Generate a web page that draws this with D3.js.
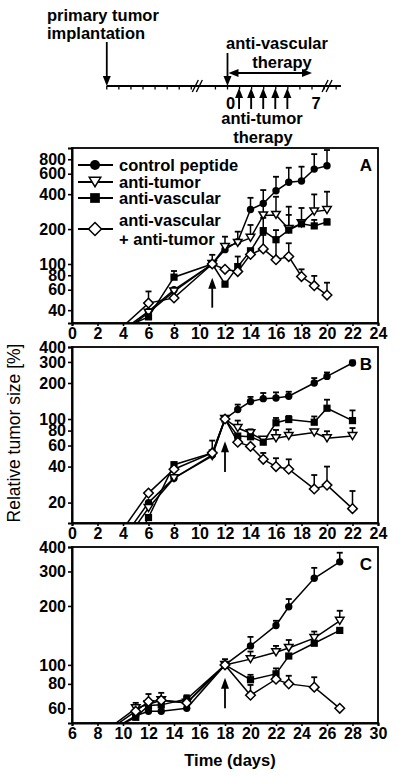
<!DOCTYPE html>
<html><head><meta charset="utf-8">
<script src="https://cdn.jsdelivr.net/npm/d3@7"></script>
<style>
body{margin:0;background:#fff;}
svg{display:block;font-family:Arial,"Liberation Sans",sans-serif;}
</style>
</head><body><svg id="c" width="400" height="776"></svg>
<script>
// ---------- DATA ----------
const seriesNames = ["control peptide", "anti-tumor", "anti-vascular", "anti-vascular", "+ anti-tumor"];
const seriesMarkers = ["circle", "triangle", "square", "diamond"];

// Panel A
const daysA = [4, 6, 8, 11, 12, 13, 14, 15, 16, 17, 18, 19, 20];
const controlA = [27, 39, 60, 100, 133, 156, 295, 332, 428, 506, 520, 658, 703];
const antiTumorA = [26, 38, 58, 100, 140, 152, 168, 262, 265, 200, 224, 283, 292];
const antiVascularA = [28, 35, 77, 100, 67, 95, 130, 194, 162, 196, 222, 213, 230];
const combinedA = [29, 46, 51, 100, 90, 86, 121, 135, 109, 116, 78, 65, 54];
const controlErrA = [null, null, null, null, null, null, 372, 434, 565, 676, 690, 885, 960];
const antiTumorErrA = [null, null, null, null, 172, 190, 217, 330, 380, 265, 304, 398, 420];
const antiVascularErrA = [null, null, 87, 120, null, 116, null, 250, 196, 312, 240, 240, 243];
const combinedErrA = [null, 58, null, null, null, null, null, 178, 156, 151, 90, 79, 69];

// Panel B
const daysB = [4, 6, 8, 11, 12, 13, 14, 15, 16, 17, 19, 20, 22];
const controlB = [10, 20, 32, 50, 100, 120, 140, 148, 150, 155, 200, 227, 294];
const antiTumorB = [9, 18, 32, 49, 100, 84, 76, 67, 69, 72, 77, 69, 72];
const antiVascularB = [6, 15, 41.5, 52, 100, 72, 71, 64, 93, 99, 94, 123, 97];
const combinedB = [12, 24, 38, 52, 100, 64, 59, 46, 40, 38, 26, 28, 17.8];
const controlErrB = [null, null, null, null, 106, 132, 153, 165, 167, 169, 220, 245, 309];
const antiTumorErrB = [null, null, null, 66, null, 97, 82, null, 81, 82, null, 79, 84];
const antiVascularErrB = [null, null, 43, null, null, null, null, null, 102, 106, 105, 145, 118];
const combinedErrB = [null, null, null, null, null, null, null, 52, 47, 46, 34, 40, 25];

// Panel C
const daysC = [9, 11, 12, 13, 15, 18, 20, 22, 23, 25, 27];
const controlC = [46, 55, 58, 58, 60, 100, 125, 159, 198, 277, 336];
const antiTumorC = [48, 60, 63, 66, 64, 100, 107, 116, 122, 137, 168];
const antiVascularC = [46.5, 54, 62, 62.5, 67, 100, 84, 90, 111, 129, 150];
const combinedC = [47, 58, 65, 66, 64, 100, 70, 84.5, 80, 77, 60];
const controlErrC = [null, null, null, null, null, 107, 139, 168, 217, 313, 374];
const antiTumorErrC = [null, 64, null, 72, null, null, 117, 125, 134, 148, 189];
const antiVascularErrC = [null, null, null, null, 70, null, 89, 96, null, null, null];
const combinedErrC = [null, null, 71, null, null, null, 79, null, 88, 86.5, null];

// Axis ticks
const xTicksAB = [0, 2, 4, 6, 8, 10, 12, 14, 16, 18, 20, 22, 24];
const xTicksC = [6, 8, 10, 12, 14, 16, 18, 20, 22, 24, 26, 28, 30];
const yTicksA = [40, 60, 80, 100, 200, 400, 600, 800];
const yTicksB = [20, 40, 60, 80, 100, 200, 300, 400];
const yTicksC = [60, 80, 100, 200, 300, 400];

// Timeline schematic (units of days)
const antiTumorDoses = [1, 2, 3, 4, 5];
const vascularPeriod = [0, 7];
const timelineTicksPre = [-10, -9, -8, -7, -6, -5, -4, -3];
const timelineTicksPost = [-1, 0, 1, 2, 3, 4, 5, 6, 7, 8];
const timelineTicksEnd = [9.0];

// ---------- DRAW ----------
const svg = d3.select("#c");
const L = 72, R = 378;
const FS = 16.5;
const TFS = 16;

function arrowHead(g, x, y, dir, w, h) {
  let pts;
  if (dir === "down") pts = [[x, y], [x - w / 2, y - h], [x + w / 2, y - h]];
  if (dir === "up") pts = [[x, y], [x - w / 2, y + h], [x + w / 2, y + h]];
  if (dir === "left") pts = [[x, y], [x + h, y - w / 2], [x + h, y + w / 2]];
  if (dir === "right") pts = [[x, y], [x - h, y - w / 2], [x - h, y + w / 2]];
  g.append("path").attr("d", "M" + pts.map(p => p.join(",")).join("L") + "Z").attr("fill", "#000");
}

// Timeline
(function () {
  const t = d3.scaleLinear().domain(vascularPeriod).range([227.5, 312]);
  const g = svg.append("g");
  const lineY = 86;
  const x0 = t(-10), xEnd = t(9.4);
  g.append("line").attr("x1", x0).attr("x2", xEnd).attr("y1", lineY).attr("y2", lineY)
    .attr("stroke", "#000").attr("stroke-width", 2);
  timelineTicksPre.concat(timelineTicksPost).concat(timelineTicksEnd).forEach(d => {
    g.append("line").attr("x1", t(d)).attr("x2", t(d)).attr("y1", lineY).attr("y2", lineY + 3.5)
      .attr("stroke", "#000").attr("stroke-width", 1.3);
  });
  [t(-2.5), t(8.25)].forEach(bx => {
    [-2, 2].forEach(o => {
      g.append("line").attr("x1", bx + o - 3).attr("y1", lineY + 6).attr("x2", bx + o + 3).attr("y2", lineY - 6)
        .attr("stroke", "#000").attr("stroke-width", 1.4);
    });
  });
  g.append("line").attr("x1", x0).attr("x2", x0).attr("y1", 42).attr("y2", 78).attr("stroke", "#000").attr("stroke-width", 1.8);
  arrowHead(g, x0, lineY, "down", 8, 10);
  g.append("text").attr("x", 47).attr("y", 21).attr("font-size", FS).attr("font-weight", "bold").text("primary tumor");
  g.append("text").attr("x", 47).attr("y", 39).attr("font-size", FS).attr("font-weight", "bold").text("implantation");
  const xv = t(vascularPeriod[0]);
  g.append("line").attr("x1", xv).attr("x2", xv).attr("y1", 53).attr("y2", 78).attr("stroke", "#000").attr("stroke-width", 1.8);
  arrowHead(g, xv, lineY, "down", 8, 10);
  g.append("line").attr("x1", xv + 6).attr("x2", t(vascularPeriod[1]) - 6).attr("y1", 73).attr("y2", 73).attr("stroke", "#000").attr("stroke-width", 1.8);
  arrowHead(g, xv + 1, 73, "left", 8, 10);
  arrowHead(g, t(vascularPeriod[1]), 73, "right", 8, 10);
  g.append("text").attr("x", 277).attr("y", 49).attr("text-anchor", "middle").attr("font-size", FS).attr("font-weight", "bold").text("anti-vascular");
  g.append("text").attr("x", 282).attr("y", 68).attr("text-anchor", "middle").attr("font-size", FS).attr("font-weight", "bold").text("therapy");
  antiTumorDoses.forEach(d => {
    const xa = t(d) - 0.5;
    g.append("line").attr("x1", xa).attr("x2", xa).attr("y1", 109).attr("y2", 96).attr("stroke", "#000").attr("stroke-width", 1.9);
    arrowHead(g, xa, 88, "up", 8, 10);
  });
  g.append("text").attr("x", t(0) + 3).attr("y", 109).attr("text-anchor", "middle").attr("font-size", FS).attr("font-weight", "bold").text("0");
  g.append("text").attr("x", t(7) + 4).attr("y", 109).attr("text-anchor", "middle").attr("font-size", FS).attr("font-weight", "bold").text("7");
  g.append("text").attr("x", 262).attr("y", 124).attr("text-anchor", "middle").attr("font-size", FS).attr("font-weight", "bold").text("anti-tumor");
  g.append("text").attr("x", 263).attr("y", 143).attr("text-anchor", "middle").attr("font-size", FS).attr("font-weight", "bold").text("therapy");
})();

function marker(g, type, cx, cy, s) {
  if (type === "circle") {
    g.append("circle").attr("cx", cx).attr("cy", cy).attr("r", 3.7 * s).attr("fill", "#000");
  } else if (type === "square") {
    const a = 7.2 * s;
    g.append("rect").attr("x", cx - a / 2).attr("y", cy - a / 2).attr("width", a).attr("height", a).attr("fill", "#000");
  } else if (type === "triangle") {
    const w = 8.5 * s, h = 7 * s;
    g.append("path").attr("d", `M${cx - w / 2},${cy - h / 2}L${cx + w / 2},${cy - h / 2}L${cx},${cy + h / 2}Z`)
      .attr("fill", "#fff").attr("stroke", "#000").attr("stroke-width", 1.5);
  } else if (type === "diamond") {
    const r = 4.8 * s;
    g.append("path").attr("d", `M${cx},${cy - r}L${cx + r},${cy}L${cx},${cy + r}L${cx - r},${cy}Z`)
      .attr("fill", "#fff").attr("stroke", "#000").attr("stroke-width", 1.5);
  }
}

const panels = [
  { label: "A", days: daysA, vals: [controlA, antiTumorA, antiVascularA, combinedA],
    errs: [controlErrA, antiTumorErrA, antiVascularErrA, combinedErrA],
    xDomain: [0, 24], yDomain: [31, 1000], top: 148, bottom: 323, xTicks: xTicksAB, yTicks: yTicksA,
    arrowDay: 11, arrowVals: [42, 76] },
  { label: "B", days: daysB, vals: [controlB, antiTumorB, antiVascularB, combinedB],
    errs: [controlErrB, antiTumorErrB, antiVascularErrB, combinedErrB],
    xDomain: [0, 24], yDomain: [13.5, 400], top: 347, bottom: 523, xTicks: xTicksAB, yTicks: yTicksB,
    arrowDay: 12, arrowVals: [36, 65] },
  { label: "C", days: daysC, vals: [controlC, antiTumorC, antiVascularC, combinedC],
    errs: [controlErrC, antiTumorErrC, antiVascularErrC, combinedErrC],
    xDomain: [6, 30], yDomain: [50.5, 400], top: 547, bottom: 723, xTicks: xTicksC, yTicks: yTicksC,
    arrowDay: 18, arrowVals: [60, 86] }
];

panels.forEach((p, pi) => {
  const x = d3.scaleLinear().domain(p.xDomain).range([L, R]);
  const y = d3.scaleLog().domain(p.yDomain).range([p.bottom, p.top]);
  const g = svg.append("g");
  const clipId = "clip" + pi;
  svg.append("clipPath").attr("id", clipId).append("rect")
    .attr("x", L).attr("y", p.top).attr("width", R - L).attr("height", p.bottom - p.top);

  g.append("rect").attr("x", L).attr("y", p.top).attr("width", R - L).attr("height", p.bottom - p.top)
    .attr("fill", "none").attr("stroke", "#000").attr("stroke-width", 1.8);

  const ax = g.append("g").attr("transform", `translate(0,${p.bottom})`)
    .call(d3.axisBottom(x).tickValues(p.xTicks).tickSize(3).tickPadding(2).tickFormat(d3.format("d")));
  const ay = g.append("g").attr("transform", `translate(${L},0)`)
    .call(d3.axisLeft(y).tickValues(p.yTicks).tickSize(4).tickPadding(2).tickFormat(d3.format("d")));
  [ax, ay].forEach(a => {
    a.select(".domain").attr("stroke-width", 2);
    a.selectAll(".tick line").attr("stroke-width", 1.6);
    a.selectAll("text").attr("font-size", TFS).attr("font-weight", "bold").attr("fill", "#000")
      .attr("font-family", "Arial, 'Liberation Sans', sans-serif");
  });

  const plot = g.append("g").attr("clip-path", `url(#${clipId})`);
  const line = d3.line().x(d => x(d[0])).y(d => y(d[1]));
  p.vals.forEach((vals) => {
    const pts = p.days.map((d, i) => [d, vals[i]]);
    plot.append("path").attr("d", line(pts)).attr("fill", "none").attr("stroke", "#000").attr("stroke-width", 1.5);
  });
  p.errs.forEach((errs, si) => {
    errs.forEach((e, i) => {
      if (e == null) return;
      const xx = x(p.days[i]);
      plot.append("line").attr("x1", xx).attr("x2", xx).attr("y1", y(p.vals[si][i])).attr("y2", y(e))
        .attr("stroke", "#000").attr("stroke-width", 1.5);
      plot.append("line").attr("x1", xx - 3).attr("x2", xx + 3).attr("y1", y(e)).attr("y2", y(e))
        .attr("stroke", "#000").attr("stroke-width", 1.8);
    });
  });
  p.vals.forEach((vals, si) => {
    p.days.forEach((d, i) => {
      const vy = y(vals[i]);
      if (vy > p.bottom || vy < p.top) return;
      marker(plot, seriesMarkers[si], x(d), vy, 1);
    });
  });
  const axx = x(p.arrowDay);
  g.append("line").attr("x1", axx).attr("x2", axx).attr("y1", y(p.arrowVals[0])).attr("y2", y(p.arrowVals[1]) + 8)
    .attr("stroke", "#000").attr("stroke-width", 1.8);
  arrowHead(g, axx, y(p.arrowVals[1]), "up", 8, 11);

  g.append("text").attr("x", 366).attr("y", p.top + 23).attr("text-anchor", "middle")
    .attr("font-size", 17).attr("font-weight", "bold").text(p.label);

  if (pi === 0) {
    const lg = g.append("g");
    const rows = [165, 182, 198, 229];
    rows.forEach((ry, si) => {
      lg.append("line").attr("x1", 78).attr("x2", 113).attr("y1", ry).attr("y2", ry).attr("stroke", "#000").attr("stroke-width", 1.8);
      marker(lg, seriesMarkers[si], 95, ry, 1.35);
    });
    const textY = [165, 182, 198, 220, 239];
    seriesNames.forEach((nm, i) => {
      lg.append("text").attr("x", 119).attr("y", textY[i]).attr("dy", "0.36em")
        .attr("font-size", FS).attr("font-weight", "bold").text(nm);
    });
  }
});

svg.append("text").attr("transform", "translate(20,433) rotate(-90)").attr("text-anchor", "middle")
  .attr("font-size", 17.5).text("Relative tumor size [%]");
svg.append("text").attr("x", 230).attr("y", 766).attr("text-anchor", "middle")
  .attr("font-size", FS).attr("font-weight", "bold").text("Time (days)");
</script>
</body></html>
